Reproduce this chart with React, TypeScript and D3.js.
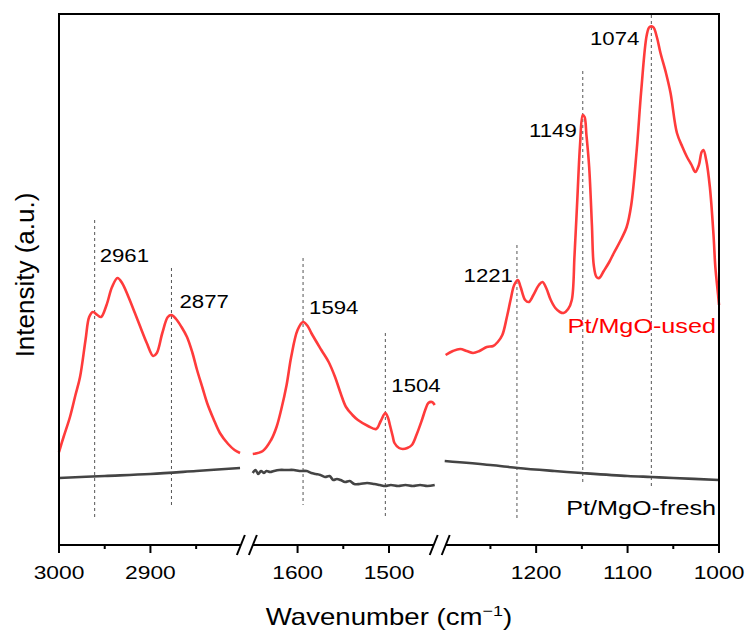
import React from "react";
import * as d3 from "d3";

// ---------- data ----------
const segmentDomains: [number, number][] = [
  [3000, 2800],
  [1650, 1450],
  [1300, 1000],
];

const majorTicks: number[][] = [
  [3000, 2900],
  [1600, 1500],
  [1200, 1100, 1000],
];
const minorTicks: number[][] = [
  [2950, 2850],
  [1550],
  [1250, 1150, 1050],
];

const usedHighWn = [3000, 2995, 2988, 2982, 2977, 2971, 2967, 2963, 2958, 2954, 2948, 2942, 2936, 2931, 2924, 2917, 2911, 2904, 2897, 2893, 2887, 2881, 2877, 2872, 2866, 2860, 2854, 2849, 2843, 2838, 2831, 2824, 2815, 2808, 2802];
const usedHighI = [93, 108, 128, 150, 168, 205, 228, 233, 230, 228, 240, 258, 267, 262, 248, 232, 218, 202, 189, 192, 212, 228, 230, 226, 218, 208, 192, 175, 157, 142, 126, 112, 101, 95, 92];

const usedMidWn = [1649, 1638, 1629, 1623, 1618, 1612, 1607, 1600, 1594, 1589, 1585, 1574, 1566, 1559, 1553, 1547, 1540, 1534, 1523, 1514, 1509, 1504, 1501, 1499, 1496, 1494, 1489, 1485, 1480, 1475, 1470, 1464, 1460, 1457, 1453, 1450];
const usedMidI = [91, 94, 105, 118, 135, 160, 188, 215, 223, 219, 212, 195, 183, 168, 152, 138, 130, 125, 119, 116, 124, 132, 127, 120, 109, 102, 97, 96, 97, 100, 110, 125, 136, 142, 143, 140];

const usedLowWn = [1299, 1291, 1283, 1276, 1269, 1262, 1254, 1247, 1242, 1237, 1232, 1228, 1224, 1220, 1217, 1212, 1208, 1203, 1197, 1193, 1189, 1184, 1179, 1174, 1170, 1165, 1161, 1158, 1155, 1152, 1149, 1147, 1145, 1142, 1139, 1137, 1134, 1131, 1126, 1120, 1115, 1108, 1101, 1096, 1090, 1085, 1079, 1076, 1072, 1068, 1064, 1058, 1053, 1046, 1040, 1035, 1030, 1026, 1022, 1019, 1017, 1014, 1010, 1006, 1004, 1001, 1000];
const usedLowI = [190, 194, 196, 194, 192, 194, 198, 199, 203, 210, 228, 245, 260, 265, 258, 245, 243, 250, 260, 263, 257, 245, 237, 233, 232, 236, 245, 290, 345, 400, 430, 428, 410, 378, 320, 280, 268, 267, 274, 283, 292, 304, 318, 340, 395, 455, 510, 518, 518, 508, 492, 472, 452, 412, 398, 388, 380, 373, 380, 393, 395, 385, 358, 310, 278, 250, 240];

const freshHighWn = [3000, 2950, 2900, 2850, 2802];
const freshHighI = [67, 69, 71, 74, 77];

const freshMidWn = [1649, 1646, 1643, 1640, 1637, 1634, 1630, 1626, 1620, 1612, 1604, 1598, 1590, 1585, 1580, 1575, 1570, 1565, 1561, 1557, 1553, 1548, 1543, 1538, 1532, 1524, 1516, 1510, 1504, 1498, 1490, 1482, 1474, 1466, 1458, 1450];
const freshMidI = [72, 75, 71, 74, 72, 74, 73, 74, 75, 75, 75, 74, 74, 72, 71, 70, 68, 69, 65, 66, 65, 63, 64, 61, 61, 62, 61, 60, 59, 60, 59, 60, 59, 60, 59, 60];

const freshLowWn = [1300, 1250, 1220, 1180, 1150, 1100, 1074, 1050, 1000];
const freshLowI = [84, 80, 77, 74, 72, 69, 68, 67, 65];

const peakWn = [2961, 2877, 1594, 1504, 1221, 1149, 1074];
const peakLabels = ["2961", "2877", "1594", "1504", "1221", "1149", "1074"];
const peakTopI = [325, 277, 287, 212, 300, 474, 530];
const peakBottomI = [28, 37, 40, 27, 27, 63, 58];
const peakLabelI = [283, 237, 231, 153, 263, 408, 500];
const peakLabelDx = [5, 8, 6, 6, -4, -6, -12];

const seriesNames = ["Pt/MgO-used", "Pt/MgO-fresh"];

// ---------- layout ----------
const W = 747;
const H = 633;
const left = 59;
const right = 719;
const top = 14;
const bottom = 545;
const gap = 10;
const SX = 1.2; // horizontal text stretch of the original figure

const spans = segmentDomains.map((d) => Math.abs(d[0] - d[1]));
const totalSpan = d3.sum(spans);
const k = (right - left - gap * (segmentDomains.length - 1)) / totalSpan;

const scales = (() => {
  let x0 = left;
  return segmentDomains.map((d, i) => {
    const w = spans[i] * k;
    const s = d3.scaleLinear().domain(d).range([x0, x0 + w]);
    x0 += w + gap;
    return s;
  });
})();

const segIndex = (wn: number) =>
  segmentDomains.findIndex((d) => wn <= d[0] && wn >= d[1]);
const xOf = (wn: number) => scales[segIndex(wn)](wn);

const y = d3.scaleLinear().domain([0, bottom - top]).range([bottom, top]);

const lineGen = d3
  .line<[number, number]>()
  .x((p) => p[0])
  .y((p) => p[1])
  .curve(d3.curveCatmullRom.alpha(0.5));

function pathFor(seg: number, wn: number[], inten: number[]) {
  const pts: [number, number][] = wn.map((w, i) => [scales[seg](w), y(inten[i])]);
  return lineGen(pts) || "";
}

const usedPaths = [
  pathFor(0, usedHighWn, usedHighI),
  pathFor(1, usedMidWn, usedMidI),
  pathFor(2, usedLowWn, usedLowI),
];
const freshPaths = [
  pathFor(0, freshHighWn, freshHighI),
  pathFor(1, freshMidWn, freshMidI),
  pathFor(2, freshLowWn, freshLowI),
];

const breakCenters = scales.slice(0, -1).map((s, i) => (s.range()[1] + scales[i + 1].range()[0]) / 2);

const font = "'Liberation Sans', Arial, Helvetica, sans-serif";

function SText(props: {
  x: number;
  y: number;
  size: number;
  anchor?: string;
  fill?: string;
  children: React.ReactNode;
}) {
  return (
    <text
      transform={`translate(${props.x},${props.y}) scale(${SX},1)`}
      fontSize={props.size}
      fontFamily={font}
      textAnchor={props.anchor || "start"}
      fill={props.fill || "#000"}
    >
      {props.children}
    </text>
  );
}

export default function App() {
  const axisSegs: [number, number][] = [];
  let prev = left;
  breakCenters.forEach((c) => {
    axisSegs.push([prev, c - 6]);
    prev = c + 6;
  });
  axisSegs.push([prev, right]);

  return (
    <svg width={W} height={H} style={{ position: "absolute", left: 0, top: 0 }}>
      <rect x={0} y={0} width={W} height={H} fill="#fff" />

      {/* dashed peak markers */}
      {peakWn.map((p, i) => (
        <line
          key={"d" + i}
          x1={xOf(p)}
          x2={xOf(p)}
          y1={y(peakTopI[i])}
          y2={y(peakBottomI[i])}
          stroke="#555"
          strokeWidth={1}
          strokeDasharray="3,3"
        />
      ))}

      {/* curves */}
      {freshPaths.map((d, i) => (
        <path key={"f" + i} d={d} fill="none" stroke="#444" strokeWidth={2.6} strokeLinejoin="round" />
      ))}
      {usedPaths.map((d, i) => (
        <path key={"u" + i} d={d} fill="none" stroke="#ff3b3b" strokeWidth={2.6} strokeLinejoin="round" />
      ))}

      {/* frame */}
      <line x1={left} x2={left} y1={top} y2={bottom} stroke="#000" strokeWidth={2} />
      <line x1={right} x2={right} y1={top} y2={bottom} stroke="#000" strokeWidth={2} />
      <line x1={left - 1} x2={right + 1} y1={top} y2={top} stroke="#000" strokeWidth={2} />
      {axisSegs.map((s, i) => (
        <line key={"a" + i} x1={s[0]} x2={s[1]} y1={bottom} y2={bottom} stroke="#000" strokeWidth={2} />
      ))}
      {breakCenters.map((c, i) => (
        <g key={"b" + i}>
          {[-6, 6].map((o) => (
            <line key={o} x1={c + o - 4} x2={c + o + 4} y1={bottom + 10} y2={bottom - 10} stroke="#000" strokeWidth={2} />
          ))}
        </g>
      ))}

      {/* ticks */}
      {majorTicks.map((ts, si) =>
        ts.map((t) => (
          <g key={"t" + t}>
            <line x1={scales[si](t)} x2={scales[si](t)} y1={bottom} y2={bottom + 8} stroke="#000" strokeWidth={2} />
            <SText x={scales[si](t)} y={579} size={19} anchor="middle">
              {t}
            </SText>
          </g>
        ))
      )}
      {minorTicks.map((ts, si) =>
        ts.map((t) => (
          <line key={"m" + t} x1={scales[si](t)} x2={scales[si](t)} y1={bottom} y2={bottom + 4} stroke="#000" strokeWidth={2} />
        ))
      )}

      {/* peak labels */}
      {peakWn.map((p, i) => (
        <SText
          key={"l" + i}
          x={xOf(p) + peakLabelDx[i]}
          y={y(peakLabelI[i])}
          size={18.5}
          anchor={peakLabelDx[i] > 0 ? "start" : "end"}
        >
          {peakLabels[i]}
        </SText>
      ))}

      {/* series labels */}
      <SText x={716} y={333} size={21} anchor="end" fill="#ff0000">
        {seriesNames[0]}
      </SText>
      <SText x={716} y={515} size={21} anchor="end">
        {seriesNames[1]}
      </SText>

      {/* axis titles */}
      <text
        transform={`translate(${(left + right) / 2},625) scale(${SX},1)`}
        fontSize={23}
        fontFamily={font}
        textAnchor="middle"
      >
        Wavenumber (cm
        <tspan fontSize={15} dy={-9}>
          −1
        </tspan>
        <tspan dy={9}>)</tspan>
      </text>
      <text
        transform={`translate(34,275) rotate(-90)`}
        fontSize={26}
        fontFamily={font}
        textAnchor="middle"
      >
        Intensity (a.u.)
      </text>
    </svg>
  );
}
